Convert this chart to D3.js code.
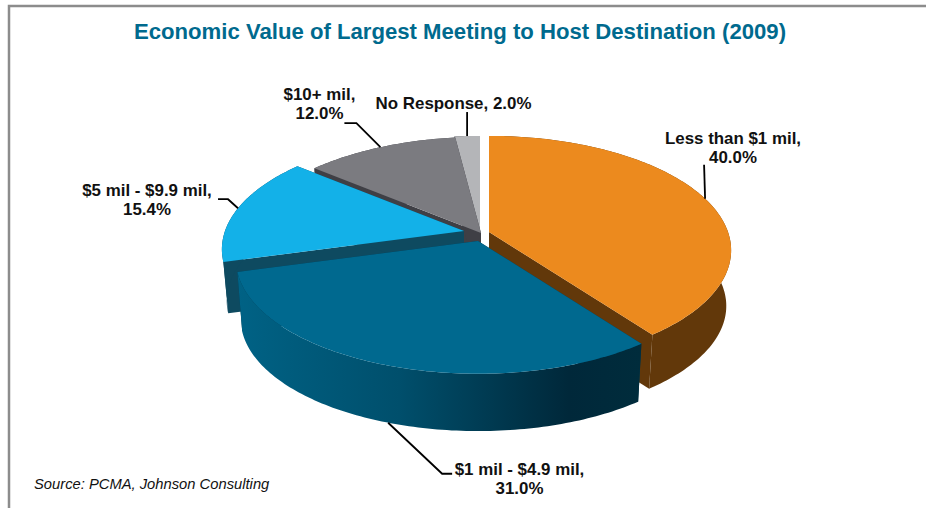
<!DOCTYPE html>
<html>
<head>
<meta charset="utf-8">
<script src="https://cdn.jsdelivr.net/npm/d3@7"></script>
<style>
  html, body { margin: 0; padding: 0; background: #fff; }
  svg { display: block; font-family: "Liberation Sans", Arial, sans-serif; }
</style>
</head>
<body>
<div id="chart"></div>
<script>
// Chart values
const categories = ["Less than $1 mil", "$1 mil - $4.9 mil", "$5 mil - $9.9 mil", "$10+ mil", "No Response"];
const shares = [40.0, 31.0, 15.4, 12.0, 2.0];
const titleText = "Economic Value of Largest Meeting to Host Destination (2009)";
const sourceText = "Source: PCMA, Johnson Consulting";

const width = 926;
const height = 508;

// Tilted pie: radii, perspective strength and shrink of the lower rim
const rx = 239;
const ry = 111.5;
const persp = 0.16;
const shrink = 0.98;

// Look of each slice: exploded centre, wall depth, colours, leader line and label placement
const sliceStyle = [
  { cx: 489, cy: 232, depth: 56, top: "#ec8a1e", wall: "#62380a",
    leader: [[-1, -34]], labelX: 733, labelY: 144 },
  { cx: 478, cy: 241, depth: 60, top: "#00698f", wall: "url(#wallBlue)", face: "#003a50",
    leader: [[54, 51], [64, 51]], labelX: 519.5, labelY: 475 },
  { cx: 464, cy: 231, depth: 52, top: "#13b1e8", wall: "#0e4a60",
    leader: [[-10, -9], [-20, -9]], labelX: 147, labelY: 196 },
  { cx: 481, cy: 233, depth: 60, top: "#7b7b80", wall: "#3f3f45",
    leader: [[-24, -24], [-36, -24]], labelX: 319.5, labelY: 100 },
  { cx: 480, cy: 232, depth: 60, top: "#b4b5b8", wall: "#55565a",
    leader: [[0, -24]], labelX: 453.5, labelY: 109 }
];

// The published shares add up to 100.4, so angles are taken as plain percent of the
// circle and the last slice stops at the top instead of running into the gap
const pie = d3.pie().sort(null).value(d => d.share)
    .endAngle(2 * Math.PI * d3.sum(shares) / 100);
const slices = pie(categories.map((name, i) => ({ name, share: shares[i] })))
  .map((d, i) => ({
    ...d,
    endAngle: Math.min(d.endAngle, 2 * Math.PI),
    style: sliceStyle[i],
    name: categories[i]
  }));

// Angle around the pie (0 = back, clockwise) to a point on the upper rim
function rim(style, angle) {
  const u = Math.sin(angle);
  const v = -Math.cos(angle);
  const w = 1 - persp * v;
  return [style.cx + rx * u / w, style.cy + ry * v / w];
}

// Same point on the lower rim
function lower(style, p) {
  return [
    style.cx + (p[0] - style.cx) * shrink,
    style.cy + (p[1] - style.cy) * shrink + style.depth
  ];
}

function arcPoints(style, a0, a1) {
  const step = Math.PI / 180;
  return d3.range(a0, a1, step).concat(a1).map(a => rim(style, a));
}

const line = d3.line();

const svg = d3.select("#chart").append("svg")
    .attr("width", width)
    .attr("height", height)
    .attr("viewBox", [0, 0, width, height]);

// Gradient along the outer wall of the dark blue slice
const grad = svg.append("defs").append("linearGradient")
    .attr("id", "wallBlue")
    .attr("x1", 0).attr("x2", 1).attr("y1", 0).attr("y2", 0);
grad.selectAll("stop")
  .data([[0, "#006285"], [0.4, "#004f6c"], [0.82, "#00283a"], [1, "#002c3c"]])
  .join("stop")
    .attr("offset", d => d[0])
    .attr("stop-color", d => d[1]);

// Frame on the top and left
svg.append("path")
    .attr("d", line([[9, height], [9, 6], [width, 6]]))
    .attr("fill", "none")
    .attr("stroke", "#8c8c8c")
    .attr("stroke-width", 2.5);

svg.append("text")
    .attr("x", 460)
    .attr("y", 39)
    .attr("text-anchor", "middle")
    .attr("font-size", 22.15)
    .attr("font-weight", "bold")
    .attr("fill", "#006a8e")
    .text(titleText);

// Back slices first, the front one last
const drawOrder = [4, 3, 2, 0, 1];
const gPie = svg.append("g");

drawOrder.forEach(i => {
  const d = slices[i];
  const s = d.style;
  const g = gPie.append("g");
  const top = arcPoints(s, d.startAngle, d.endAngle);
  const apex = [s.cx, s.cy];
  const faceFill = s.face || s.wall;

  // The two cut faces
  [top[0], top[top.length - 1]].forEach(p => {
    g.append("path")
        .attr("d", line([apex, p, lower(s, p), lower(s, apex)]) + "Z")
        .attr("fill", faceFill);
  });

  // Outer wall
  g.append("path")
      .attr("d", line(top.concat(top.map(p => lower(s, p)).reverse())) + "Z")
      .attr("fill", s.wall);

  // Top surface
  g.append("path")
      .attr("d", line([apex].concat(top)) + "Z")
      .attr("fill", s.top);
});

// Leader lines start on the rim at the middle of each slice
const gLabels = svg.append("g");

slices.forEach(d => {
  const s = d.style;
  const mid = (d.startAngle + d.endAngle) / 2;
  const start = rim(s, mid);
  const v = -Math.cos(mid);
  // front slice: leader leaves from the lower rim
  const from = v > 0.5 ? lower(s, start) : start;
  const pts = [from].concat(s.leader.map(o => [from[0] + o[0], from[1] + o[1]]));

  gLabels.append("path")
      .attr("d", line(pts))
      .attr("fill", "none")
      .attr("stroke", "#000")
      .attr("stroke-width", 1.8);
});

slices.forEach(d => {
  const s = d.style;
  const pct = shares[d.index].toFixed(1) + "%";
  const oneLine = d.name === "No Response";
  const t = gLabels.append("text")
      .attr("x", s.labelX)
      .attr("y", s.labelY)
      .attr("text-anchor", "middle")
      .attr("font-size", 16.9)
      .attr("font-weight", "bold")
      .attr("fill", "#111");
  if (oneLine) {
    t.text(d.name + ", " + pct);
  } else {
    t.append("tspan").text(d.name + ",");
    t.append("tspan")
        .attr("x", s.labelX)
        .attr("dy", 19)
        .text(pct);
  }
});

svg.append("text")
    .attr("x", 34)
    .attr("y", 489)
    .attr("font-size", 14.75)
    .attr("font-style", "italic")
    .attr("fill", "#111")
    .text(sourceText);
</script>
</body>
</html>
